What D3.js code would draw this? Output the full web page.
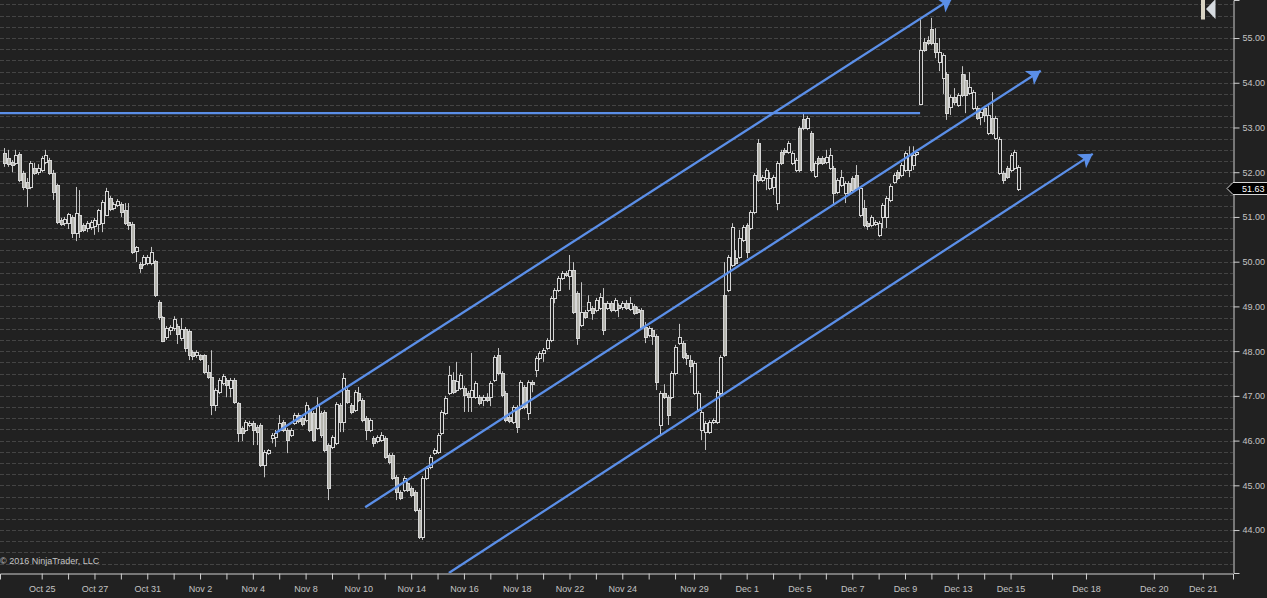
<!DOCTYPE html>
<html><head><meta charset="utf-8">
<script src="https://cdn.jsdelivr.net/npm/d3@7"></script>
<style>
html,body{margin:0;padding:0;background:#212121;overflow:hidden}
svg{display:block}
text{font-family:"Liberation Sans",Arial,sans-serif;font-size:9px;fill:#c4c4c4}
</style></head><body>
<svg id="c" width="1267" height="598"></svg>
<script>
// Candle values, one entry per bar, in price units
const bodyHi=[52.43,52.32,52.23,52.38,52.41,51.98,51.78,52.21,52.09,52.09,52.32,52.38,52.27,51.98,51.71,50.93,50.95,51.06,51.00,51.09,51.04,50.82,50.86,50.89,50.93,51.15,51.33,51.58,51.42,51.29,51.36,51.29,51.15,50.89,50.84,50.33,49.95,50.10,50.10,50.22,50.01,49.10,48.76,48.52,48.54,48.72,48.56,48.49,48.49,48.45,47.98,47.98,47.91,47.91,47.53,47.42,47.13,47.35,47.44,47.35,47.35,47.35,46.84,46.28,46.41,46.39,46.39,46.30,46.35,45.74,45.79,46.12,46.17,46.39,46.41,46.24,46.24,46.57,46.57,46.50,46.79,46.68,46.62,46.79,46.62,46.64,45.90,46.08,46.82,46.79,47.40,47.13,46.79,47.08,47.06,46.91,46.50,46.46,46.06,46.08,46.12,46.06,45.68,45.68,45.18,44.85,45.16,45.05,44.94,44.85,44.45,45.16,45.39,45.63,45.79,46.12,46.64,46.95,47.46,47.35,47.33,47.46,47.17,47.06,47.13,47.29,46.97,46.97,46.97,47.29,47.87,47.91,47.51,47.06,46.53,46.75,46.75,47.31,47.20,47.31,47.31,47.85,47.96,48.02,48.25,49.19,49.37,49.63,49.75,49.75,49.81,49.81,49.30,48.87,48.87,49.10,48.96,49.14,49.21,49.07,49.07,49.07,49.14,49.03,49.07,49.07,49.07,49.01,48.94,48.92,48.54,48.52,48.47,48.34,47.06,47.06,46.97,47.51,48.09,48.31,48.18,47.91,47.80,47.73,47.06,46.64,46.39,46.41,46.46,47.08,47.87,49.25,50.10,50.77,50.08,50.53,50.77,50.82,51.11,51.94,52.65,51.89,52.05,51.87,51.89,52.21,52.45,52.50,52.65,52.43,52.27,52.99,53.19,53.21,52.88,52.21,52.32,52.32,52.34,52.38,52.09,51.82,51.89,51.76,51.76,51.87,51.94,51.65,51.20,50.86,51.00,50.89,50.86,51.27,51.42,51.69,51.94,52.00,52.16,52.43,52.38,52.38,52.45,54.73,54.91,54.96,55.20,54.89,54.69,54.62,54.19,53.68,53.68,53.73,54.19,54.06,53.90,53.79,53.43,53.35,53.43,53.28,53.21,53.21,52.74,51.98,52.09,52.38,52.45,52.12];
const bodyLo=[52.21,52.18,52.16,52.21,51.82,51.67,51.65,51.67,51.98,52.00,52.05,52.23,51.98,51.56,50.89,50.84,50.86,50.86,50.64,50.64,50.68,50.71,50.75,50.77,50.80,50.84,50.86,51.04,51.18,51.20,51.27,51.11,50.86,50.82,50.22,50.24,49.86,49.95,49.97,49.97,49.25,48.76,48.23,48.31,48.47,48.52,48.38,48.29,48.07,47.91,47.89,47.91,47.82,47.53,47.42,46.79,46.79,47.08,47.29,47.24,47.17,46.86,46.17,46.17,46.24,46.35,46.24,46.19,45.45,45.45,45.72,46.06,46.08,46.24,46.24,46.01,46.12,46.39,46.44,46.37,46.46,46.24,46.01,46.28,46.12,45.79,44.94,45.86,45.94,46.41,46.41,46.86,46.64,46.68,46.91,46.46,46.24,46.24,45.94,45.99,46.01,45.63,45.52,45.16,44.85,44.71,44.89,44.89,44.78,44.45,43.84,43.84,45.16,45.41,45.72,45.74,46.17,46.62,47.06,47.08,47.13,47.17,47.02,46.97,46.97,46.97,46.84,46.91,46.91,46.97,47.35,47.51,47.02,46.46,46.44,46.41,46.30,46.73,46.75,46.62,47.26,47.58,47.85,47.96,48.07,48.25,49.19,49.37,49.63,49.70,49.68,48.87,48.29,48.58,48.76,48.92,48.85,48.92,48.96,48.47,48.96,48.92,48.92,48.96,48.99,48.96,48.94,48.85,48.87,48.54,48.31,48.36,48.34,47.31,46.35,46.97,46.57,46.97,47.51,48.18,47.87,47.85,47.67,47.06,46.68,46.24,46.19,46.19,46.41,46.41,47.06,47.91,49.37,49.92,49.97,50.10,50.48,50.22,50.75,51.11,51.82,51.82,51.87,51.65,51.67,51.31,52.21,52.45,52.45,52.21,52.05,52.05,52.99,52.99,52.05,51.91,52.21,52.21,52.23,52.09,51.53,51.56,51.71,51.53,51.53,51.60,51.65,51.04,50.82,50.80,50.82,50.84,50.60,51.00,51.00,51.38,51.78,51.87,51.94,52.05,52.05,52.16,52.41,53.52,54.73,54.89,54.89,54.69,54.46,54.11,53.32,53.46,53.57,53.50,53.73,53.73,53.77,53.43,53.21,53.23,53.28,52.88,52.88,52.76,51.98,51.82,51.89,52.05,52.09,51.63];
const highs=[52.54,52.50,52.27,52.50,52.45,52.03,51.87,52.25,52.21,52.18,52.36,52.50,52.32,52.05,51.74,50.98,51.00,51.09,51.04,51.67,51.60,50.86,50.91,50.93,50.98,51.18,51.38,51.65,51.47,51.33,51.40,51.33,51.31,51.31,50.89,50.35,49.99,50.15,50.15,50.33,50.04,49.14,48.78,48.56,48.58,48.78,48.61,48.74,48.54,48.49,48.02,48.02,47.93,47.93,47.69,48.02,47.17,47.40,47.49,47.40,47.40,47.40,46.86,46.32,46.46,46.44,46.44,46.35,46.39,45.79,45.81,46.17,46.24,46.57,46.46,46.28,46.28,46.62,46.62,46.55,46.86,46.73,46.66,46.97,46.66,46.68,45.94,46.12,46.86,46.84,47.51,47.17,46.84,47.13,47.20,46.95,46.55,46.50,46.10,46.12,46.19,46.10,45.72,45.72,45.23,44.89,45.21,45.09,44.98,44.89,44.49,45.21,45.43,45.68,45.83,46.17,46.68,47.00,47.67,47.53,47.76,47.51,47.22,47.11,47.96,47.33,47.02,47.02,47.06,47.33,47.91,48.07,47.55,47.11,46.57,46.79,46.79,47.35,47.24,47.35,47.35,47.89,48.00,48.07,48.29,49.23,49.41,49.68,49.79,49.79,50.15,49.99,49.34,49.54,48.92,49.25,49.01,49.19,49.30,49.41,49.12,49.12,49.19,49.07,49.12,49.14,49.21,49.05,48.99,48.96,48.65,48.56,48.52,48.38,47.11,47.26,47.02,47.55,48.14,48.61,48.23,47.96,47.91,47.78,47.11,46.68,46.44,46.46,46.50,47.13,47.91,49.99,50.15,50.86,50.26,50.71,50.82,50.86,51.15,51.98,52.74,51.94,52.09,52.00,51.94,52.25,52.50,52.54,52.70,52.47,52.32,53.03,53.32,53.26,52.92,52.25,52.36,52.36,52.50,52.54,52.14,51.87,52.05,51.80,51.80,51.91,52.16,51.69,51.38,50.91,51.04,50.93,50.91,51.31,51.47,51.74,51.98,52.05,52.21,52.47,52.58,52.58,52.50,55.45,55.00,55.04,55.45,55.22,55.00,54.66,54.24,53.73,53.88,53.77,54.37,54.19,54.24,53.84,53.48,53.39,53.48,53.50,53.79,53.26,52.79,52.03,52.14,52.43,52.50,52.16];
const lows=[52.12,52.12,52.00,52.16,51.78,51.60,51.22,51.62,51.94,51.94,52.00,52.18,51.94,51.38,50.84,50.80,50.80,50.73,50.53,50.46,50.53,50.66,50.66,50.71,50.60,50.66,50.66,51.02,51.13,51.15,51.22,51.00,50.82,50.71,50.17,49.99,49.75,49.90,49.92,49.92,49.21,48.70,48.20,48.25,48.36,48.45,48.16,48.23,47.98,47.80,47.80,47.85,47.78,47.49,47.38,46.57,46.66,47.04,47.24,46.97,46.97,46.82,45.97,45.99,46.19,46.30,45.90,45.90,45.41,45.18,45.68,45.94,45.86,46.19,46.19,45.72,46.08,46.35,46.39,46.32,46.41,46.19,45.97,46.24,46.06,45.74,44.67,45.81,45.90,46.19,46.19,46.82,46.59,46.64,46.86,46.41,46.01,46.19,45.86,45.94,45.97,45.59,45.47,45.12,44.67,44.67,44.85,44.85,44.74,44.40,43.80,43.78,45.12,45.36,45.68,45.70,46.12,46.57,47.02,47.04,47.08,47.13,46.64,46.64,46.64,46.93,46.79,46.77,46.86,46.77,47.31,47.46,46.97,46.41,46.39,46.37,46.17,46.68,46.70,46.46,47.08,47.42,47.80,47.76,48.02,48.20,49.07,49.32,49.59,49.66,49.37,48.83,48.14,48.54,48.72,48.87,48.70,48.87,48.92,48.36,48.92,48.87,48.87,48.76,48.92,48.92,48.90,48.81,48.83,48.49,48.18,48.31,48.14,47.13,46.12,46.93,46.35,46.93,47.46,48.14,47.82,47.69,47.51,47.02,46.64,46.01,45.79,46.15,46.37,46.37,47.02,47.87,49.32,49.88,49.92,50.06,50.44,50.08,50.71,51.06,51.78,51.78,51.60,51.60,51.49,51.15,52.16,52.38,52.41,52.16,52.00,52.00,52.94,52.94,52.00,51.87,52.16,52.16,52.18,52.05,51.27,51.51,51.67,51.31,51.49,51.56,51.60,51.00,50.77,50.71,50.77,50.80,50.55,50.75,50.75,51.33,51.74,51.82,51.89,52.00,51.89,52.05,52.36,53.50,54.69,54.84,54.84,54.55,54.26,53.75,53.17,53.28,53.50,53.46,53.68,53.32,53.73,53.39,53.17,53.05,53.12,52.83,52.83,52.72,51.94,51.74,51.85,52.00,52.05,51.58];
const barDirection=["dddudddudu","uudddduudu","dduuuuuudu","udddduduuu","ddduuududd","duddddUUUd","udddduddd".padEnd(0),"",""].slice(0,0).concat([
"dddudddudu","uudddduudu","dduuuuuudu","udddduduuu","ddduuududd","duddddu".padEnd(7)+"uud","uddduudddu","uuuudduudd","udduddduud","uddudddudu",
"uddddduddd","duuuuuuuud","uudduududu","uddddududu","duuuuuuuud","uddududuud","ududududdd","dudduddduuu".slice(0,5)+"dduuu","ddddddduuuu".slice(4),"uuuuduuduu",
"duuduuuuud","duuuddudud","duuduuuddd","uddUuuuuuu".toLowerCase(),"duuuuuuddd","duududuudu".slice(0,5)+"duddu","udududuudd"]).join("");
const lastPrice=51.63;

// Price channel drawn on the chart: bar number and price at each end
const channelBars=[[72,251.5],[95.8,275],[118,288.8],[-1.1,243]];
const channelPrices=[[46.17,55.89],[44.51,54.27],[43.04,52.41],[53.32,53.32]];
const channelArrow=[true,true,true,false];

// Axis content
const priceTicks=[44,45,46,47,48,49,50,51,52,53,54,55];
const gridPrices=d3.range(43.25,55.76,0.25);
const tickBars=[10,17,24,31,38,45,52,59,66,73,80,87,94,101,108,115,122,129,136,143,150,157,164,171,178,183,190,197,204,211,218,225,232,239,246,253,260,267,278,287,305,318];
const tickLabels=["Oct 25","","Oct 27","","Oct 31","","Nov 2","","Nov 4","","Nov 8","","Nov 10","","Nov 14","","Nov 16","","Nov 18","","Nov 22","","Nov 24","","","Nov 29","","Dec 1","","Dec 5","","Dec 7","","Dec 9","","Dec 13","","Dec 15","","Dec 18","Dec 20","Dec 21"];

const W=1267,H=598,axisX=1233,axisY=573;
const svg=d3.select("#c");
const x=d3.scaleLinear().domain([-1.061,326]).range([0,axisX]);
const y=d3.scaleLinear().domain([43.04,55.85]).range([axisY,0]);
svg.append("rect").attr("width",W).attr("height",H).attr("fill","#212121");
const defs=svg.append("defs");
defs.append("clipPath").attr("id","plot").append("rect").attr("width",axisX).attr("height",axisY);
defs.append("marker").attr("id","arrow").attr("markerUnits","userSpaceOnUse").attr("markerWidth",16).attr("markerHeight",18)
  .attr("viewBox","-13 -8 14 16").attr("refX",0).attr("refY",0).attr("orient","auto")
  .append("path").attr("d","M0,0L-12,-7.5L-9,0L-12,7.5Z").attr("fill","#5b8fe8");

// grid
svg.append("g").selectAll("line").data(gridPrices).join("line")
  .attr("x1",0).attr("x2",axisX)
  .attr("y1",d=>Math.round(y(d))+.5).attr("y2",d=>Math.round(y(d))+.5)
  .attr("stroke","#444444").attr("stroke-dasharray","4,2");

// candles
const plot=svg.append("g").attr("clip-path","url(#plot)");
const idx=d3.range(bodyHi.length);
const px=i=>Math.round(x(i))+.5;
plot.append("g").selectAll("line").data(idx).join("line")
  .attr("x1",px).attr("x2",px).attr("y1",i=>y(highs[i])).attr("y2",i=>y(lows[i]))
  .attr("stroke","#c4c4c4");
plot.append("g").selectAll("rect").data(idx).join("rect")
  .attr("x",i=>px(i)-1.5).attr("width",3)
  .attr("y",i=>Math.round(y(bodyHi[i]))+.5)
  .attr("height",i=>Math.max(1,Math.round(y(bodyLo[i])-y(bodyHi[i]))))
  .attr("fill",i=>barDirection[i]==="d"?"#b5b5ae":"#212121")
  .attr("stroke","#d6d6d6").attr("shape-rendering","crispEdges");

// channel lines
plot.append("g").selectAll("line").data(channelBars).join("line")
  .attr("x1",d=>x(d[0])).attr("x2",d=>x(d[1]))
  .attr("y1",(d,i)=>y(channelPrices[i][0])).attr("y2",(d,i)=>y(channelPrices[i][1]))
  .attr("stroke","#5b8fe8").attr("stroke-width",2.3)
  .attr("marker-end",(d,i)=>channelArrow[i]?"url(#arrow)":null);

// axes
const axR=svg.append("g").attr("transform",`translate(${axisX+.5},0)`)
  .call(d3.axisRight(y).tickValues(priceTicks).tickFormat(d3.format(".2f")).tickSize(6).tickPadding(3));
const axB=svg.append("g").attr("transform",`translate(0,${axisY+.5})`)
  .call(d3.axisBottom(x).tickValues(tickBars).tickFormat((d,i)=>tickLabels[i]).tickSize(6).tickPadding(6));
[axR,axB].forEach(a=>{a.attr("font-size",null).attr("font-family",null);
  a.selectAll("path").attr("stroke","#cfcfcf").attr("fill","none");
  a.selectAll("line").attr("stroke","#cfcfcf");
  a.selectAll("text").attr("fill","#c4c4c4");});

// last price flag
const ly=Math.round(y(lastPrice))-.5;
svg.append("path").attr("d",`M${axisX-6},${ly}L${axisX},${ly-6}H${W}V${ly+6}H${axisX}Z`).attr("fill","#000");
svg.append("path").attr("d",`M${axisX-6},${ly}L${axisX},${ly-6}H${W}M${W},${ly+6}H${axisX}L${axisX-6},${ly}`)
  .attr("stroke","#d8d8d8").attr("fill","none");
svg.append("text").attr("x",axisX+9).attr("y",ly+3.5).style("fill","#fff").text(d3.format(".2f")(lastPrice));

// logo and copyright
svg.append("rect").attr("x",1201).attr("y",0).attr("width",4).attr("height",19.5).attr("fill","#d9d4c4");
svg.append("path").attr("d","M1206,9L1215.5,-1V19Z").attr("fill","#d6dbe0");
svg.append("text").attr("x",0).attr("y",564).text("© 2016 NinjaTrader, LLC");
</script>
</body></html>
